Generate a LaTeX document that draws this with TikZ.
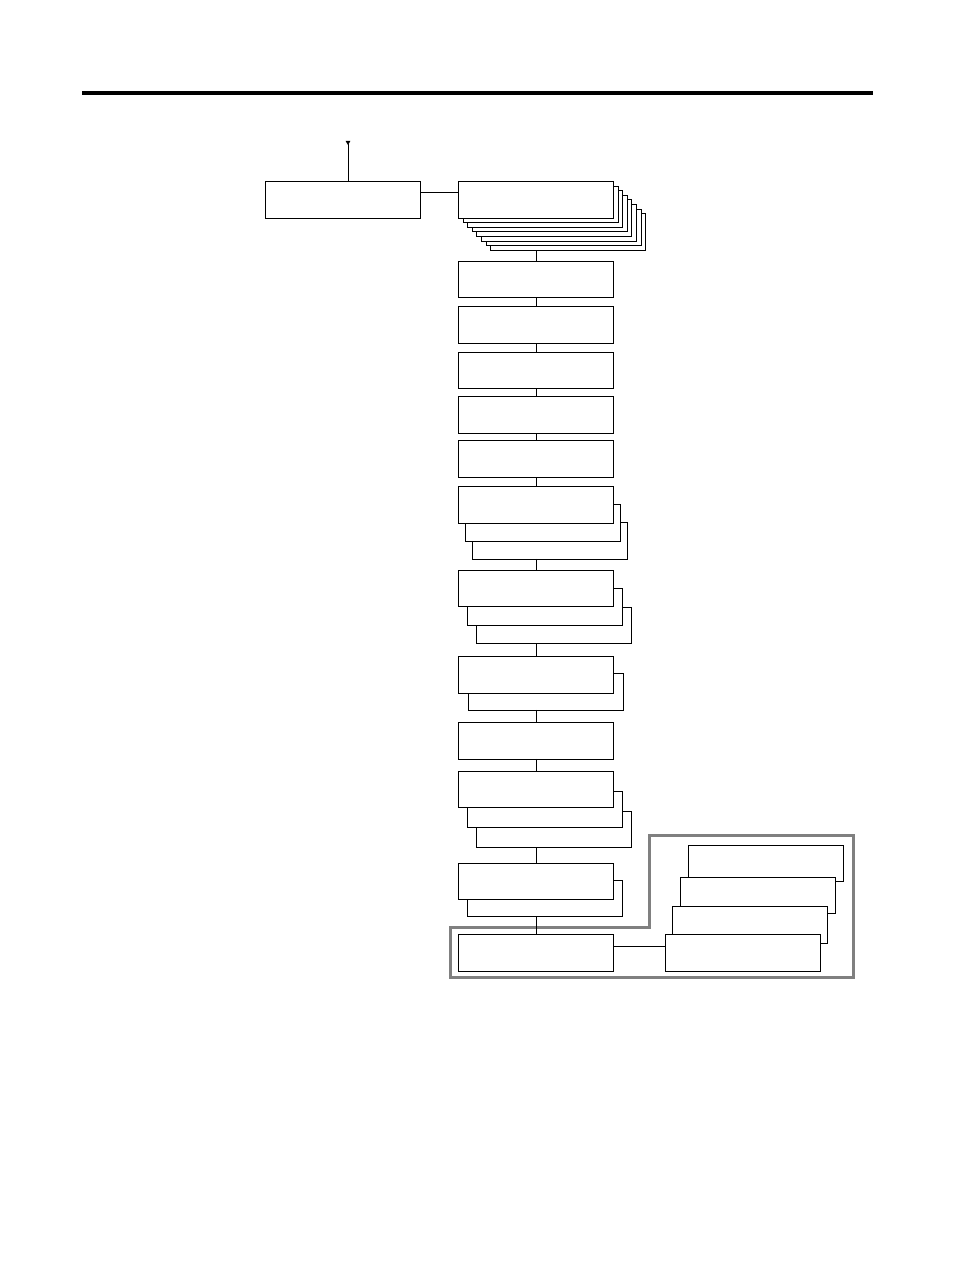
\documentclass[tikz,border=0pt]{standalone}
\usetikzlibrary{arrows.meta}
\begin{document}
\begin{tikzpicture}
    [
    x=1pt, y=-1pt,
    box/.style={rectangle,draw,fill=white,line width=0.9pt,inner sep=0pt,outer sep=0pt,minimum width=155pt,minimum height=36.5pt},
    link/.style={line width=0.9pt},
    frame/.style={draw=black!50,line width=3pt}
    ]
    \useasboundingbox (0,0) rectangle (954,1273);
    \draw [line width=4pt] (82,93) -- (873,93);

    % gray frame round the last row
    \draw [frame] (450.5,927) -- (649,927) -- (649,835.5) -- (853.5,835.5) -- (853.5,977.5) -- (450.5,977.5) -- cycle;

    \node (left) at (343,199.8) [box] {};
    \coordinate (in) at (348,141);
    \draw [link, {Triangle[reversed,length=4pt,width=4.5pt]}-] (in) -- (in |- left.north);

    % stack of eight
    \foreach \i in {7,...,1}
      \node (b1s\i) at ({536+4.6*\i},{199.8+4.6*\i}) [box] {};
    \node (b1) at (536,199.8) [box] {};
    \draw [link] (left.east |- 0,192) -- (b1.west |- 0,192);

    \node (b2) at (536,279.2) [box] {};
    \node (b3) at (536,324.8) [box] {};
    \node (b4) at (536,370.3) [box] {};
    \node (b5) at (536,414.8) [box] {};
    \node (b6) at (536,458.8) [box] {};

    \node (b7s2) at (550,540.7) [box] {};
    \node (b7s1) at (543,522.7) [box] {};
    \node (b7) at (536,504.7) [box] {};

    \node (b8s2) at (554,625.2) [box] {};
    \node (b8s1) at (545,606.7) [box] {};
    \node (b8) at (536,588.2) [box] {};

    \node (b9s1) at (546,691.7) [box] {};
    \node (b9) at (536,674.7) [box] {};

    \node (b10) at (536,740.7) [box] {};

    \node (b11s2) at (554,829.3) [box] {};
    \node (b11s1) at (545,809.3) [box] {};
    \node (b11) at (536,789.3) [box] {};

    \node (b12s1) at (545,898.3) [box] {};
    \node (b12) at (536,881.3) [box] {};

    \node (b13) at (536,953) [box] {};

    % stack behind the last box
    \node (r3) at (766,863.5) [box] {};
    \node (r2) at (758,895.5) [box] {};
    \node (r1) at (750,924.7) [box] {};
    \node (r) at (743,953) [box] {};
    \draw [link] (b13.east |- 0,946.3) -- (r.west |- 0,946.3);

    \draw [link] (b1 |- b1s7.south) -- (b2.north);
    \draw [link] (b2) -- (b3);
    \draw [link] (b3) -- (b4);
    \draw [link] (b4) -- (b5);
    \draw [link] (b5) -- (b6);
    \draw [link] (b6) -- (b7);
    \draw [link] (b7 |- b7s2.south) -- (b8.north);
    \draw [link] (b8 |- b8s2.south) -- (b9.north);
    \draw [link] (b9 |- b9s1.south) -- (b10.north);
    \draw [link] (b10) -- (b11);
    \draw [link] (b11 |- b11s2.south) -- (b12.north);
    \draw [link] (b12 |- b12s1.south) -- (b13.north);
  \end{tikzpicture}
\end{document}
